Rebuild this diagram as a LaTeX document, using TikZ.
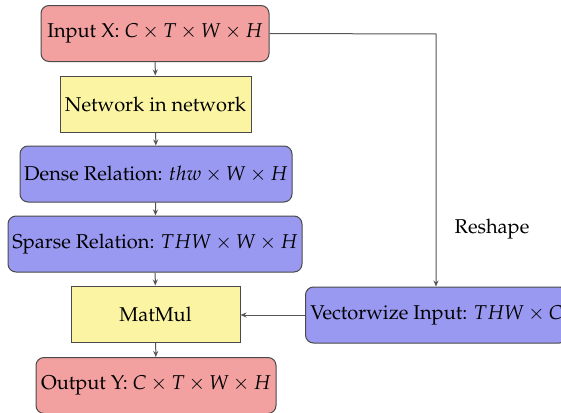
\documentclass[tikz,border=0pt]{standalone}
\usepackage[T1]{fontenc}
\usepackage{mathpazo}
\usetikzlibrary{arrows.meta}
\definecolor{redbox}{HTML}{F2A0A0}
\definecolor{yellowbox}{HTML}{FBF5A3}
\definecolor{bluebox}{HTML}{9999F2}
\definecolor{edgegray}{HTML}{4A4A4A}
\definecolor{linegray}{HTML}{555555}
\tikzset{
  boxbase/.style={draw=edgegray, line width=0.5pt, inner xsep=2pt, inner ysep=3pt, minimum height=28pt, align=center, font=\normalsize},
  redrbox/.style={boxbase, fill=redbox, rounded corners=4pt},
  yelbox/.style={boxbase, fill=yellowbox},
  blubox/.style={boxbase, fill=bluebox, rounded corners=4pt},
  conn/.style={draw=linegray, line width=0.5pt, -{Stealth[length=3pt,width=2.5pt]}},
}
\begin{document}
\begin{tikzpicture}[x=0.5pt,y=-0.5pt]
\useasboundingbox (0,0) rectangle (561,412);
\node[redrbox, minimum width=114pt] (inx) at (155,33.5) {Input X: $C\times T\times W\times H$};
\node[yelbox, minimum width=95.5pt] (nin) at (155.5,104) {Network in network};
\node[blubox, minimum width=136pt] (dense) at (156,174) {Dense Relation: $thw\times W\times H$};
\node[blubox, minimum width=147pt] (sparse) at (155,244) {Sparse Relation: $THW\times W\times H$};
\node[yelbox, minimum width=84.5pt] (mm) at (155.5,314) {MatMul};
\node[redrbox, minimum width=120pt] (outy) at (156,385.5) {Output Y: $C\times T\times W\times H$};
\node[blubox, minimum width=131pt, anchor=west] (vec) at (305,315) {Vectorwize Input: $THW\times C$};
\coordinate (corner) at (436,34);
\draw[conn] (inx) -- (nin);
\draw[conn] (nin) -- (dense);
\draw[conn] (dense) -- (sparse);
\draw[conn] (sparse) -- (mm);
\draw[conn] (mm) -- (outy);
\draw[conn] (inx.east) -- (corner) -- (corner |- vec.north);
\draw[conn] (vec.west) -- (mm.east |- vec.west);
\node[font=\normalsize] (reshape) at (492,229) {Reshape};
\end{tikzpicture}
\end{document}
